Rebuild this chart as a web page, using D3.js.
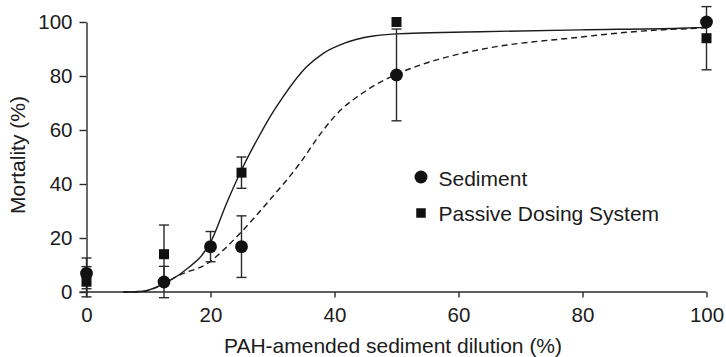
<!DOCTYPE html>
<html>
<head>
<meta charset="utf-8">
<script src="https://cdn.jsdelivr.net/npm/d3@7"></script>
<style>
  body { margin: 0; background: #fff; }
  svg { display: block; font-family: "Liberation Sans", Arial, Helvetica, sans-serif; }
</style>
</head>
<body>
<div id="chart"></div>
<script>
// mortality data, dilution in %
var sedX = [0, 12.5, 20, 25, 50, 100];
var sedY = [6.9, 3.7, 16.8, 16.8, 80.4, 100];
var sedErr = [5.7, 5.8, 5.6, 11.4, 17, 0];

var pdsX = [0, 12.5, 25, 50, 100];
var pdsY = [3.8, 14, 44.2, 100, 94];
var pdsErr = [5.6, 10.8, 5.8, 0, 11.7];

// fitted curves (solid = passive dosing, dashed = sediment)
var pdsFitX = [5.9, 9.2, 12.7, 15.6, 20.2, 22.6, 25, 27.5, 29.6, 31.7, 35.5, 38.2, 40.9, 43.6, 46.3, 50, 55.4, 63.5, 79.6, 95.7, 100];
var pdsFitY = [0, 0.3, 3.4, 7.5, 19.3, 32.9, 45.2, 56.3, 64.9, 72.3, 83.4, 88.4, 91.5, 93.6, 94.8, 95.6, 96, 96.4, 97.1, 97.7, 98];
var sedFitX = [5.9, 9.2, 12.7, 14.5, 19.9, 22.1, 25, 29.1, 34.3, 38.2, 40.9, 43.6, 46.8, 50, 54, 58.1, 63.5, 79.6, 87.7, 100];
var sedFitY = [0, 0.3, 3.3, 5.7, 11.2, 15.6, 22.3, 32.9, 47.3, 60, 67.2, 72.2, 77, 80.6, 84.2, 87, 89.8, 94.4, 96.3, 97.8];

var ticks = [0, 20, 40, 60, 80, 100];
var legendLabels = ["Sediment", "Passive Dosing System"];

var width = 726, height = 357;
var ink = "#1b1b1b";

var svg = d3.select("#chart").append("svg")
    .attr("width", width)
    .attr("height", height);

var x = d3.scaleLinear().domain([0, 100]).range([86.5, 706.5]);
var y = d3.scaleLinear().domain([0, 100]).range([292, 22]);

// axes
var xAxis = svg.append("g")
    .attr("transform", "translate(0," + y(0) + ")")
    .call(d3.axisBottom(x).tickValues(ticks).tickSize(5.5).tickSizeOuter(0).tickPadding(10));
var yAxis = svg.append("g")
    .attr("transform", "translate(" + x(0) + ",0)")
    .call(d3.axisLeft(y).tickValues(ticks).tickSize(7).tickSizeOuter(0).tickPadding(7));

[xAxis, yAxis].forEach(function (g) {
    g.select(".domain").attr("stroke", "#2a2a2a").attr("stroke-width", 1.4);
    g.selectAll(".tick line").attr("stroke", "#2a2a2a").attr("stroke-width", 1.4);
    g.selectAll(".tick text")
        .attr("fill", ink)
        .style("font-size", "20.5px")
        .style("font-family", "'Liberation Sans', Arial, sans-serif");
});
// the x axis line runs under the left tick of 0
xAxis.select(".domain").attr("d", "M" + (x(0) - 7) + ",0H" + x(100));

svg.append("text")
    .attr("x", 393)
    .attr("y", 353)
    .attr("text-anchor", "middle")
    .attr("fill", ink)
    .style("font-size", "21px")
    .text("PAH-amended sediment dilution (%)");

svg.append("text")
    .attr("transform", "translate(25,155) rotate(-90)")
    .attr("text-anchor", "middle")
    .attr("fill", ink)
    .style("font-size", "21px")
    .text("Mortality (%)");

// fitted lines
var line = d3.line()
    .x(function (d) { return x(d[0]); })
    .y(function (d) { return y(d[1]); })
    .curve(d3.curveMonotoneX);

svg.append("path")
    .datum(d3.zip(pdsFitX, pdsFitY))
    .attr("d", line)
    .attr("fill", "none")
    .attr("stroke", ink)
    .attr("stroke-width", 1.4);

svg.append("path")
    .datum(d3.zip(sedFitX, sedFitY))
    .attr("d", line)
    .attr("fill", "none")
    .attr("stroke", ink)
    .attr("stroke-width", 1.4)
    .attr("stroke-dasharray", "6,4");

// error bars
function errorBars(xs, ys, errs) {
    var pts = d3.zip(xs, ys, errs).filter(function (d) { return d[2] > 0; });
    var g = svg.append("g").attr("stroke", "#2a2a2a").attr("stroke-width", 1.4);
    pts.forEach(function (d) {
        var cx = x(d[0]), top = y(d[1] + d[2]), bot = y(d[1] - d[2]);
        g.append("line").attr("x1", cx).attr("x2", cx).attr("y1", top).attr("y2", bot);
        g.append("line").attr("x1", cx - 5).attr("x2", cx + 5).attr("y1", top).attr("y2", top);
        g.append("line").attr("x1", cx - 5).attr("x2", cx + 5).attr("y1", bot).attr("y2", bot);
    });
}
errorBars(sedX, sedY, sedErr);
errorBars(pdsX, pdsY, pdsErr);

// markers
svg.append("g").selectAll("rect")
    .data(d3.zip(pdsX, pdsY))
    .join("rect")
    .attr("x", function (d) { return x(d[0]) - 5; })
    .attr("y", function (d) { return y(d[1]) - 5; })
    .attr("width", 10)
    .attr("height", 10)
    .attr("fill", "#111");

svg.append("g").selectAll("circle")
    .data(d3.zip(sedX, sedY))
    .join("circle")
    .attr("cx", function (d) { return x(d[0]); })
    .attr("cy", function (d) { return y(d[1]); })
    .attr("r", 6.4)
    .attr("fill", "#111");

// legend
var legend = svg.append("g");
legend.append("circle").attr("cx", 421).attr("cy", 177).attr("r", 6.5).attr("fill", "#111");
legend.append("rect").attr("x", 416.25).attr("y", 208.25).attr("width", 9.5).attr("height", 9.5).attr("fill", "#111");
legend.selectAll("text")
    .data(legendLabels)
    .join("text")
    .attr("x", 438.5)
    .attr("y", function (d, i) { return 186 + i * 35; })
    .attr("fill", ink)
    .style("font-size", "21px")
    .text(function (d) { return d; });
</script>
</body>
</html>
